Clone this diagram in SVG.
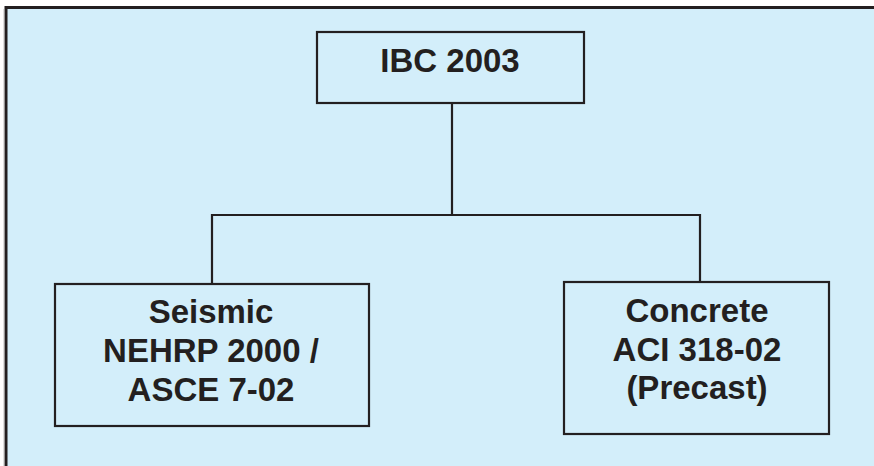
<svg xmlns="http://www.w3.org/2000/svg" width="874" height="466" viewBox="0 0 874 466">
<style>
.box{fill:none;stroke:#231f20;stroke-width:2.2}
.con{fill:none;stroke:#231f20;stroke-width:2.2}
text{font-family:"Liberation Sans",Arial,sans-serif;font-weight:bold;font-size:33px;fill:#231f20;text-anchor:middle}
</style>
<rect x="0" y="0" width="874" height="466" fill="#ffffff"/>
<rect x="6" y="7.5" width="900" height="500" fill="#d3eefa" stroke="#231f20" stroke-width="3"/>
<line x1="4.2" y1="9" x2="4.2" y2="466" stroke="#999" stroke-width="1"/>
<g id="connectors">
<path class="con" d="M452 104 V214"/>
<path class="con" d="M212 285 V215 H700 V282"/>
</g>
<g id="ibc">
<rect class="box" x="317" y="32" width="267" height="71"/>
<text x="450" y="72">IBC 2003</text>
</g>
<g id="seismic">
<rect class="box" x="55" y="284" width="314" height="142"/>
<text x="211" y="323">Seismic</text>
<text x="211" y="362">NEHRP 2000 /</text>
<text x="211" y="401">ASCE 7-02</text>
</g>
<g id="concrete">
<rect class="box" x="564" y="282" width="265" height="152"/>
<text x="697" y="322">Concrete</text>
<text x="697" y="361">ACI 318-02</text>
<text x="697" y="399">(Precast)</text>
</g>
</svg>
